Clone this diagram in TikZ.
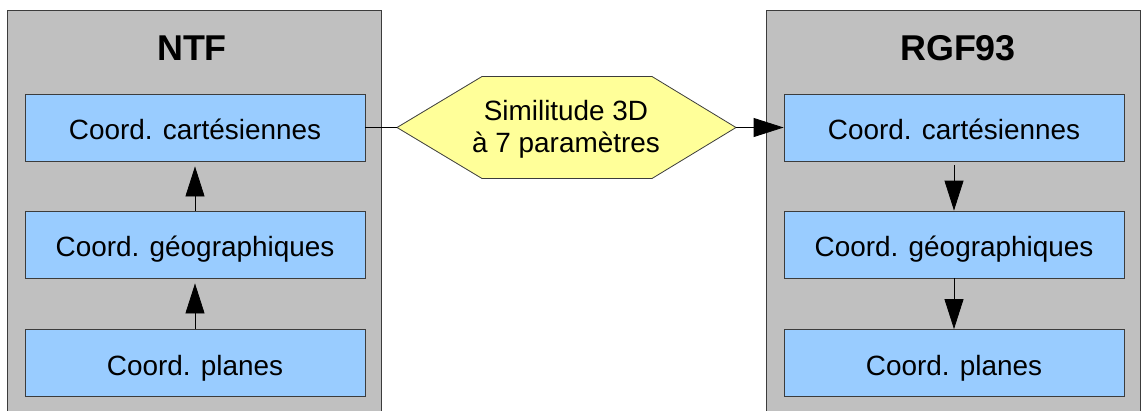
\documentclass[tikz,border=0pt]{standalone}
\usepackage{fontspec}
\setmainfont{Liberation Sans}
\usetikzlibrary{arrows.meta}
\definecolor{panelgray}{HTML}{C0C0C0}
\definecolor{boxblue}{HTML}{99CCFF}
\definecolor{hexyellow}{HTML}{FFFF99}
\definecolor{edgegray}{HTML}{3C3C3C}
\begin{document}
\begin{tikzpicture}[x=1bp,y=-1bp,
  panel/.style={draw=edgegray, fill=panelgray, line width=0.8bp,
    minimum width=374bp, minimum height=410bp, inner sep=0pt},
  title/.style={font=\fontsize{36}{40}\selectfont\bfseries, anchor=base, inner sep=0pt},
  coordbox/.style={draw=edgegray, fill=boxblue, line width=0.8bp,
    minimum width=340bp, minimum height=67bp, inner sep=0pt,
    text height=24bp, text depth=0pt,
    font=\fontsize{28}{32}\selectfont},
  hexbox/.style={draw=edgegray, fill=hexyellow, line width=0.8bp},
  link/.style={line width=0.8bp},
  flow/.style={line width=0.8bp, -{Triangle[length=30bp,width=19bp]}},
]
\useasboundingbox (0,0) rectangle (1144,410);

% the two reference-system panels, running off the bottom edge
\begin{scope}
  \clip (0,0) rectangle (1144,410);
  \node[panel] (ntf) at (194,215) {};
  \node[panel] (rgf) at (953,215) {};
\end{scope}

\node[title] (ntftitle) at (192,60) {NTF};
\node[title] (rgftitle) at (958,60) {RGF93};

% NTF coordinate boxes
\node[coordbox] (a1) at (195,127.5) {Coord. cartésiennes};
\node[coordbox] (a2) at (195,244.5) {Coord. géographiques};
\node[coordbox] (a3) at (195,363)   {Coord. planes};

% RGF93 coordinate boxes
\node[coordbox] (b1) at (954,127.5) {Coord. cartésiennes};
\node[coordbox] (b2) at (954,244.5) {Coord. géographiques};
\node[coordbox] (b3) at (954,363)   {Coord. planes};

% transformation hexagon
\path[hexbox] (397,127.5) coordinate (simW) -- (482,76.5) -- (652,76.5)
  -- (736,127.5) coordinate (simE) -- (652,178.5) -- (482,178.5) -- cycle;
\node[font=\fontsize{28}{32.5}\selectfont, align=center, inner sep=0pt] (sim)
  at (566,129) {Similitude 3D\\à 7 paramètres};

% connectors
\draw[link] (a1.east) -- (simW);
\draw[flow] (simE) -- (b1.west);
\draw[flow, shorten >=5bp] (a2.north) -- (a1.south);
\draw[flow, shorten >=5bp] (a3.north) -- (a2.south);
\draw[flow, shorten <=4bp] (b1.south) -- (b2.north);
\draw[flow] (b2.south) -- (b3.north);
\end{tikzpicture}
\end{document}
